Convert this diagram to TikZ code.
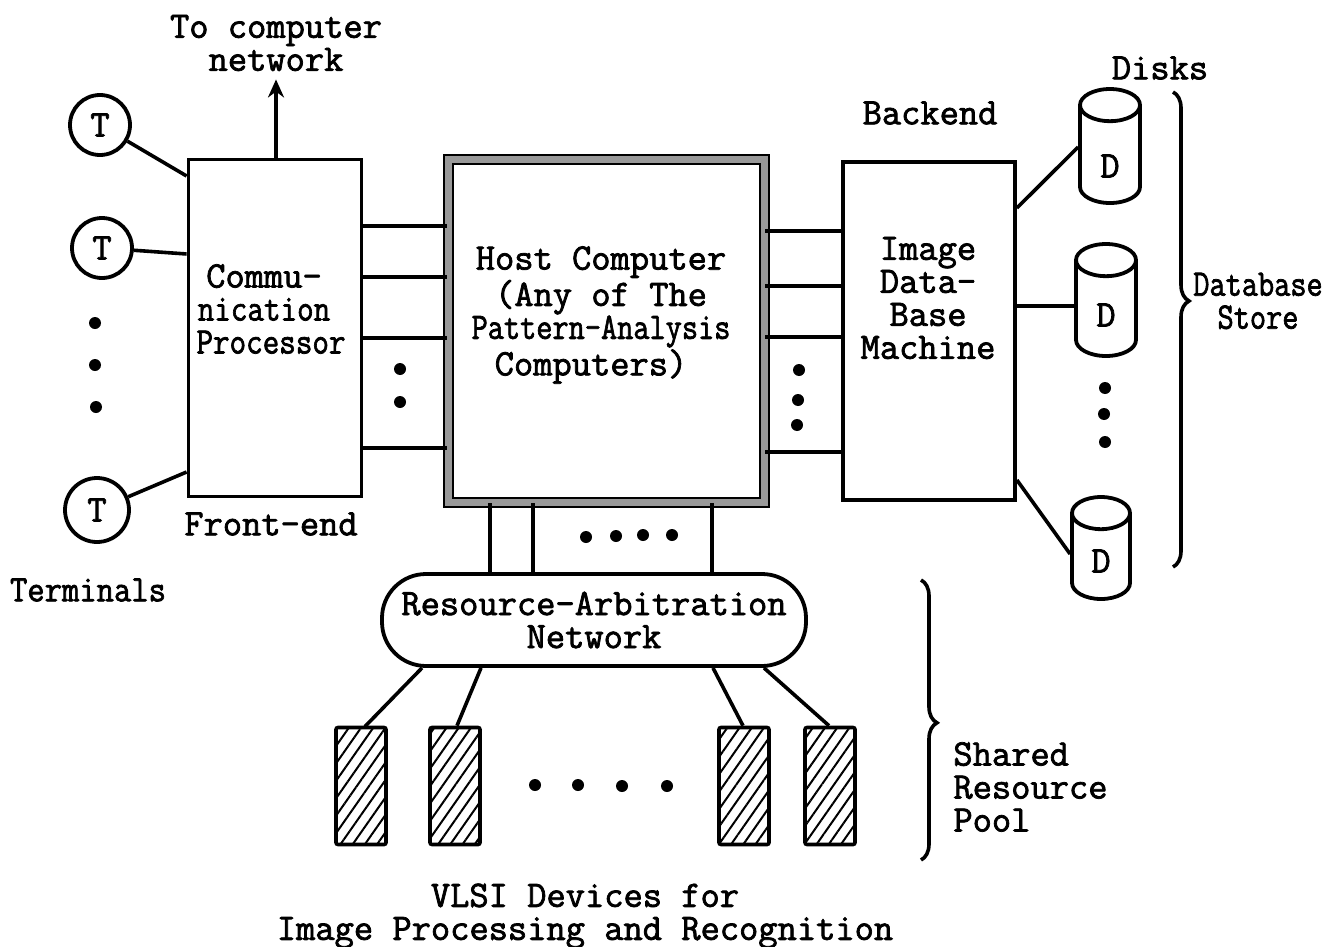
\documentclass[tikz,border=0pt]{standalone}
\usepackage{fontspec}
\setmonofont[FakeBold=2]{Latin Modern Mono}
\usetikzlibrary{arrows.meta,shapes.geometric,shapes.misc,patterns.meta,decorations.pathreplacing}
\newcommand{\lowtxt}[2]{\raisebox{-#1}[\height][\depth]{#2}}
\tikzset{
  txt/.style      = {align=center, inner sep=0pt, font=\fontsize{18.7}{16.5}\selectfont\ttfamily},
  procbox/.style  = {rectangle, draw=black, line width=1.9pt, inner sep=0pt},
  hostbox/.style  = {procbox, draw=black, line width=1pt, double=black!40, double distance=3.5pt},
  netbox/.style   = {txt, rectangle, rounded corners=22pt, draw=black, line width=1.9pt,
                     minimum width=212pt, minimum height=46pt},
  termnode/.style = {txt, circle, draw=black, line width=1.9pt, minimum size=30pt},
  diskcyl/.style  = {txt, cylinder, shape border rotate=90, shape aspect=1.67, draw=black,
                     line width=1.9pt, minimum width=30pt},
  devbox/.style   = {rectangle, rounded corners=1pt, draw=black, line width=1.8pt,
                     minimum width=25pt, minimum height=58.5pt, inner sep=0pt,
                     pattern={Lines[angle=55,distance=5pt,line width=1pt]}},
  rbrace/.style   = {decorate, decoration={brace, amplitude=8pt, aspect=#1}, line width=1.8pt},
  link/.style     = {draw=black, line width=1.8pt},
  ar/.style       = {-{Stealth[length=9pt,width=8pt]}, draw=black, line width=1.8pt}
}
\begin{document}
\begin{tikzpicture}[x=0.5pt,y=-0.5pt]
    \useasboundingbox (0,0) rectangle (1327,947);
    % boxes
    \node[procbox, minimum width=86.5pt, minimum height=168.5pt] (front) at (275,328) {};
    \node[hostbox, minimum width=158pt, minimum height=171.5pt] (host) at (606,330.5) {};
    \node[procbox, minimum width=86pt, minimum height=169pt] (back) at (929,331) {};
    \node[netbox] (net) at (594,620) {Resource-Arbitration\\Network};
    % terminals
    \node[termnode] (t1) at (100,125) {T};
    \node[termnode] (t2) at (102,248) {T};
    \node[termnode, minimum size=32pt] (t3) at (97,510) {T};
    % disks
    \node[diskcyl, minimum height=57pt] (d1) at (1110,155) {\lowtxt{5.5pt}{D}};
    \node[diskcyl, minimum height=56pt] (d2) at (1106,309) {\lowtxt{3pt}{D}};
    \node[diskcyl, minimum width=29pt, minimum height=51pt] (d3) at (1101,557) {\lowtxt{2pt}{D}};
    % shared devices
    \node[devbox] (v1) at (361,786) {};
    \node[devbox] (v2) at (455,786) {};
    \node[devbox] (v3) at (744,786) {};
    \node[devbox] (v4) at (830,786) {};
    % labels
    \node[txt] (tonet) at (276,43) {To computer\\network};
    \node[txt] (comm) at (264,309) {Commu-\\\scalebox{0.86}[1]{nication}\\\hspace*{7pt}\scalebox{0.86}[1]{Processor}};
    \node[txt] (hostlbl) at (601,315) {Host Computer\\(Any of The\\\scalebox{0.84}[1]{Pattern-Analysis}\\\hspace*{-10pt}Computers)};
    \node[txt] (imgdb) at (928,298) {Image\\Data-\\Base\\Machine};
    \node[txt] (bend) at (930,113) {Backend};
    \node[txt] (disks) at (1160,68) {Disks};
    \node[txt] (fend) at (271,524) {Front-end};
    \node[txt] (terms) at (88,590) {\scalebox{0.9}[1]{Terminals}};
    \node[txt] (store) at (1258,301) {\scalebox{0.84}[1]{Database}\\\scalebox{0.84}[1]{Store}};
    \node[txt, align=left, anchor=west] (pool) at (953,787) {Shared\\Resource\\Pool};
    \node[txt] (vlsi) at (585,916) {VLSI Devices for\\Image Processing and Recognition};
    % connections
    \draw[ar, shorten >=4pt] (front.north -| tonet) -- (tonet.south);
    \draw[link] (t1) -- (front.west |- 0,176);
    \draw[link] (t2) -- (front.west |- 0,254);
    \draw[link] (t3) -- (front.west |- 0,472);
    \foreach \ya in {226,277,338,448} \draw[link] (front.east |- 0,\ya) -- (host.west |- 0,\ya);
    \foreach \ya in {231,286,337,452} \draw[link] (host.east |- 0,\ya) -- (back.west |- 0,\ya);
    \foreach \xa in {490,533,712} \draw[link] (host.south -| \xa,0) -- (net.north -| \xa,0);
    \draw[link] (back.east |- 0,208) -- (d1.west |- 0,147);
    \draw[link] (back.east |- 0,306) -- (d2.west |- 0,306);
    \draw[link] (back.east |- 0,480) -- (d3.west |- 0,554);
    \draw[link] (net.south -| 422,0) -- (v1.north -| 365,0);
    \draw[link] (net.south -| 481,0) -- (v2.north -| 457,0);
    \draw[link] (net.south -| 713,0) -- (v3.north -| 743,0);
    \draw[link] (net.south -| 764,0) -- (v4.north -| 829,0);
    % braces
    \coordinate (b1a) at (1173,92); \coordinate (b1b) at (1173,567);
    \coordinate (b2a) at (921,580); \coordinate (b2b) at (921,860);
    \draw[rbrace=0.44] (b1a) -- (b1b);
    \draw[rbrace=0.51] (b2a) -- (b2b);
    % dots
    \foreach \xa/\ya in {95/323,95/365,96/407,400/369,400/402,799/370,798/400,797/425,
                         1105/388,1104/414,1105/442,586/537,616/536,643/535,672/535,
                         535/785,578/785,622/786,667/786}
      \fill (\xa,\ya) circle (3pt);
\end{tikzpicture}
\end{document}
